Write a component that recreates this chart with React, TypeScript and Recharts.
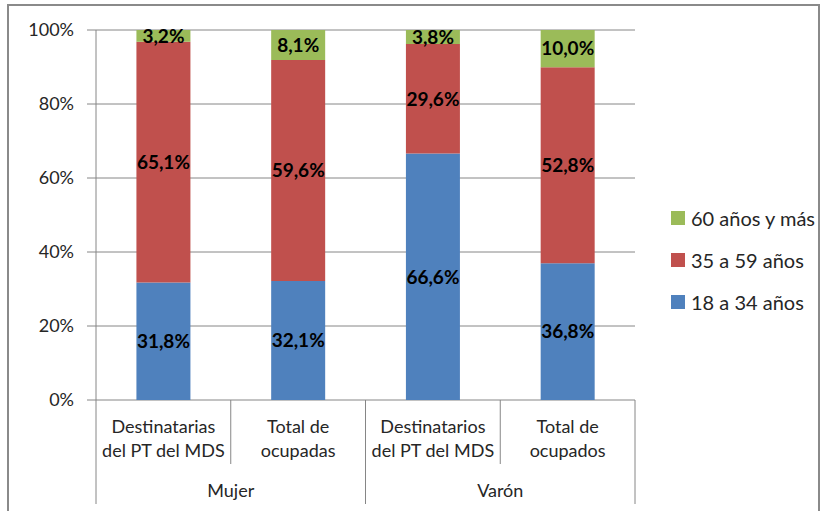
import React from 'react';
import {
  BarChart,
  Bar,
  XAxis,
  YAxis,
  CartesianGrid,
  LabelList,
} from 'recharts';

// categories (two levels)
const categories = [
  'Destinatarias|del PT del MDS',
  'Total de|ocupadas',
  'Destinatarios|del PT del MDS',
  'Total de|ocupados',
];
const groups = ['Mujer', 'Mujer', 'Varón', 'Varón'];

// series values (%)
const joven = [31.8, 32.1, 66.6, 36.8];
const adulto = [65.1, 59.6, 29.6, 52.8];
const mayor = [3.2, 8.1, 3.8, 10.0];

const seriesNames = ['18 a 34 años', '35 a 59 años', '60 años y más'];
const yTicks = [0, 0.2, 0.4, 0.6, 0.8, 1];

const data = categories.map((c, i) => ({
  name: c,
  group: groups[i],
  joven: joven[i],
  adulto: adulto[i],
  mayor: mayor[i],
}));

const W = 829;
const H = 511;
const PLOT_LEFT = 96;
const PLOT_RIGHT = 635;
const PLOT_TOP = 30;
const PLOT_BOTTOM = 400;
const CAT_W = (PLOT_RIGHT - PLOT_LEFT) / categories.length;
const FONT = 'Lato, "Open Sans", sans-serif';
const AXIS_GRAY = '#868686';

const pct = (v: number) => `${v.toFixed(1).replace('.', ',')}%`;

const CategoryTick = (props: any) => {
  const { x, payload, index } = props;
  const lines = String(payload.value).split('|');
  const left = x - CAT_W / 2;
  const right = x + CAT_W / 2;
  const groupStart = index === 0 || groups[index] !== groups[index - 1];
  let groupLabel = null;
  if (groupStart) {
    let n = 1;
    while (index + n < groups.length && groups[index + n] === groups[index]) n++;
    groupLabel = (
      <text
        x={left + (n * CAT_W) / 2}
        y={497}
        textAnchor="middle"
        fill="#262626"
        fontSize={18}
        fontFamily={FONT}
      >
        {groups[index]}
      </text>
    );
  }
  return (
    <g>
      <line x1={left} y1={PLOT_BOTTOM} x2={left} y2={groupStart ? 504 : 464} stroke={AXIS_GRAY} />
      {index === categories.length - 1 && (
        <line x1={right} y1={PLOT_BOTTOM} x2={right} y2={504} stroke={AXIS_GRAY} />
      )}
      {lines.map((l, i) => (
        <text
          key={i}
          x={x}
          y={433 + i * 24}
          textAnchor="middle"
          fill="#262626"
          fontSize={18}
          fontFamily={FONT}
        >
          {l}
        </text>
      ))}
      {groupLabel}
    </g>
  );
};

const colors = ['#4F81BD', '#C0504D', '#9BBB59'];
const keys = ['joven', 'adulto', 'mayor'];

const LegendBox = () => (
  <div style={{ position: 'absolute', left: 671, top: 197, fontFamily: FONT, fontSize: 20, color: '#262626' }}>
    {[2, 1, 0].map((i) => (
      <div key={i} style={{ display: 'flex', alignItems: 'center', height: 42 }}>
        <span style={{ width: 14, height: 14, background: colors[i], marginRight: 6, display: 'inline-block' }} />
        <span>{seriesNames[i]}</span>
      </div>
    ))}
  </div>
);

export default function App() {
  return (
    <div style={{ position: 'absolute', left: 0, top: 0, width: W, height: H, overflow: 'hidden', background: '#fff' }}>
      <div
        style={{
          position: 'absolute',
          left: 7,
          top: 4,
          width: W - 7 - 9,
          height: H + 20,
          border: '2px solid #8a8a8a',
          boxSizing: 'border-box',
        }}
      />
      <BarChart
        width={W}
        height={H}
        data={data}
        stackOffset="expand"
        barCategoryGap="30%"
        margin={{ top: PLOT_TOP, right: W - PLOT_RIGHT, bottom: 0, left: 0 }}
      >
        <CartesianGrid vertical={false} stroke={AXIS_GRAY} />
        <YAxis
          width={PLOT_LEFT}
          domain={[0, 1]}
          ticks={yTicks}
          tickFormatter={(v: number) => `${Math.round(v * 100)}%`}
          axisLine={{ stroke: AXIS_GRAY }}
          tickLine={{ stroke: AXIS_GRAY }}
          tickSize={9}
          tickMargin={13}
          tick={{ fill: '#262626', fontSize: 18, fontFamily: FONT }}
        />
        <XAxis
          dataKey="name"
          height={H - PLOT_BOTTOM}
          axisLine={false}
          tickLine={false}
          interval={0}
          tick={<CategoryTick />}
        />
        {keys.map((k, i) => (
          <Bar key={k} dataKey={k} stackId="a" fill={colors[i]} name={seriesNames[i]} isAnimationActive={false}>
            <LabelList
              dataKey={k}
              position="center"
              formatter={(v: any) => pct(Number(v))}
              style={{ fill: '#000', fontSize: 19, fontWeight: 700, fontFamily: FONT }}
            />
          </Bar>
        ))}
      </BarChart>
      <LegendBox />
    </div>
  );
}
